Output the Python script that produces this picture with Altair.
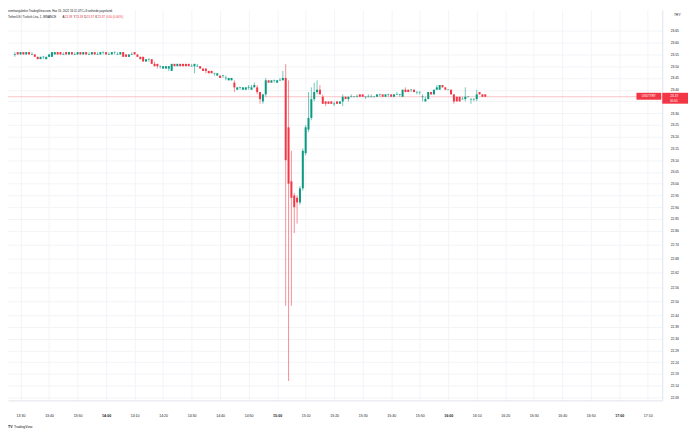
import altair as alt
import pandas as pd

GREEN = "#089981"
RED = "#f23645"
FONT = "Liberation Sans"

start_time = "2022-06-19 13:28"

opens = [
    23.55, 23.56, 23.55, 23.56, 23.55, 23.56, 23.55, 23.55, 23.54, 23.53, 23.54, 23.53, 23.54, 23.54,
    23.55, 23.56, 23.56, 23.55, 23.56, 23.55, 23.56, 23.55, 23.55, 23.56, 23.55, 23.56, 23.55, 23.55,
    23.56, 23.55, 23.55, 23.56, 23.56, 23.55, 23.55, 23.56, 23.55, 23.55, 23.56, 23.55, 23.54, 23.55,
    23.56, 23.55, 23.54, 23.54, 23.52, 23.53, 23.53, 23.51, 23.51, 23.50, 23.49, 23.49, 23.49, 23.48,
    23.51, 23.50, 23.51, 23.51, 23.51, 23.51, 23.50, 23.50, 23.50, 23.50, 23.49, 23.49, 23.48, 23.48,
    23.47, 23.46, 23.46, 23.46, 23.45, 23.44, 23.44, 23.43, 23.40, 23.41, 23.40, 23.40, 23.41, 23.40,
    23.41, 23.41, 23.39, 23.35, 23.38, 23.44, 23.43, 23.44, 23.43, 23.44, 23.44, 23.45, 23.24, 23.01,
    22.95, 22.94, 22.92, 22.98, 23.13, 23.23, 23.28, 23.36, 23.39, 23.40, 23.37, 23.35, 23.35, 23.35,
    23.34, 23.35, 23.34, 23.35, 23.37, 23.36, 23.37, 23.37, 23.37, 23.38, 23.38, 23.37, 23.37, 23.37,
    23.37, 23.37, 23.38, 23.38, 23.37, 23.38, 23.38, 23.37, 23.38, 23.38, 23.37, 23.40, 23.40, 23.40,
    23.40, 23.39, 23.39, 23.37, 23.35, 23.36, 23.39, 23.38, 23.40, 23.40, 23.42, 23.41, 23.40, 23.40,
    23.38, 23.37, 23.37, 23.36, 23.36, 23.37, 23.36, 23.36, 23.36, 23.39, 23.38, 23.38,
]
highs = [
    23.56, 23.56, 23.56, 23.56, 23.56, 23.56, 23.56, 23.55, 23.54, 23.54, 23.54, 23.54, 23.55, 23.56,
    23.56, 23.56, 23.56, 23.56, 23.56, 23.56, 23.56, 23.56, 23.56, 23.56, 23.56, 23.56, 23.56, 23.56,
    23.56, 23.56, 23.56, 23.56, 23.56, 23.56, 23.56, 23.56, 23.56, 23.56, 23.56, 23.55, 23.55, 23.56,
    23.56, 23.55, 23.54, 23.54, 23.53, 23.53, 23.53, 23.52, 23.51, 23.50, 23.50, 23.50, 23.50, 23.51,
    23.51, 23.51, 23.51, 23.51, 23.51, 23.51, 23.51, 23.51, 23.51, 23.50, 23.49, 23.49, 23.48, 23.48,
    23.47, 23.47, 23.46, 23.46, 23.46, 23.45, 23.45, 23.44, 23.41, 23.41, 23.41, 23.41, 23.42, 23.42,
    23.43, 23.42, 23.39, 23.38, 23.45, 23.44, 23.44, 23.44, 23.44, 23.45, 23.48, 23.51, 23.44, 23.14,
    22.96, 22.95, 22.99, 23.15, 23.25, 23.39, 23.41, 23.43, 23.44, 23.42, 23.38, 23.35, 23.35, 23.35,
    23.35, 23.35, 23.35, 23.38, 23.37, 23.37, 23.38, 23.37, 23.38, 23.38, 23.38, 23.37, 23.38, 23.38,
    23.37, 23.38, 23.38, 23.38, 23.38, 23.38, 23.38, 23.38, 23.39, 23.38, 23.40, 23.41, 23.40, 23.40,
    23.40, 23.39, 23.39, 23.38, 23.37, 23.39, 23.39, 23.40, 23.42, 23.42, 23.42, 23.41, 23.40, 23.40,
    23.38, 23.37, 23.37, 23.37, 23.41, 23.37, 23.36, 23.36, 23.40, 23.39, 23.38, 23.38,
]
lows = [
    23.54, 23.55, 23.55, 23.55, 23.55, 23.55, 23.55, 23.54, 23.53, 23.53, 23.53, 23.53, 23.54, 23.54,
    23.55, 23.55, 23.55, 23.55, 23.55, 23.55, 23.55, 23.55, 23.55, 23.55, 23.55, 23.55, 23.55, 23.55,
    23.55, 23.55, 23.55, 23.55, 23.55, 23.55, 23.55, 23.55, 23.55, 23.55, 23.54, 23.54, 23.54, 23.55,
    23.55, 23.54, 23.53, 23.52, 23.52, 23.52, 23.51, 23.50, 23.49, 23.49, 23.49, 23.49, 23.48, 23.48,
    23.50, 23.50, 23.50, 23.50, 23.50, 23.50, 23.50, 23.47, 23.50, 23.49, 23.48, 23.47, 23.47, 23.47,
    23.46, 23.46, 23.45, 23.45, 23.44, 23.44, 23.44, 23.39, 23.40, 23.40, 23.40, 23.40, 23.40, 23.40,
    23.41, 23.38, 23.34, 23.34, 23.37, 23.43, 23.43, 23.43, 23.43, 23.44, 23.44, 22.48, 22.16, 22.48,
    22.79, 22.83, 22.91, 22.97, 23.12, 23.22, 23.27, 23.35, 23.38, 23.38, 23.34, 23.33, 23.34, 23.34,
    23.33, 23.34, 23.34, 23.33, 23.36, 23.35, 23.37, 23.37, 23.37, 23.37, 23.37, 23.36, 23.37, 23.37,
    23.37, 23.37, 23.37, 23.37, 23.37, 23.37, 23.37, 23.37, 23.38, 23.37, 23.37, 23.39, 23.39, 23.39,
    23.39, 23.38, 23.38, 23.35, 23.35, 23.36, 23.38, 23.38, 23.40, 23.40, 23.41, 23.40, 23.40, 23.38,
    23.34, 23.35, 23.35, 23.36, 23.35, 23.37, 23.34, 23.35, 23.35, 23.38, 23.37, 23.37,
]
closes = [
    23.55, 23.55, 23.56, 23.55, 23.56, 23.55, 23.55, 23.54, 23.53, 23.54, 23.54, 23.54, 23.55, 23.56,
    23.56, 23.55, 23.55, 23.55, 23.55, 23.56, 23.55, 23.55, 23.56, 23.55, 23.56, 23.55, 23.55, 23.56,
    23.55, 23.55, 23.56, 23.56, 23.55, 23.55, 23.56, 23.56, 23.55, 23.56, 23.54, 23.54, 23.55, 23.55,
    23.55, 23.54, 23.53, 23.52, 23.53, 23.53, 23.51, 23.50, 23.50, 23.50, 23.50, 23.50, 23.50, 23.51,
    23.50, 23.51, 23.50, 23.50, 23.50, 23.50, 23.50, 23.51, 23.50, 23.49, 23.48, 23.48, 23.47, 23.47,
    23.47, 23.47, 23.45, 23.46, 23.45, 23.45, 23.45, 23.41, 23.41, 23.41, 23.41, 23.41, 23.41, 23.41,
    23.42, 23.39, 23.36, 23.38, 23.44, 23.43, 23.44, 23.44, 23.44, 23.44, 23.45, 23.10, 23.00, 22.94,
    22.90, 22.92, 22.98, 23.14, 23.24, 23.28, 23.36, 23.39, 23.40, 23.38, 23.34, 23.34, 23.34, 23.34,
    23.34, 23.34, 23.35, 23.37, 23.36, 23.37, 23.37, 23.37, 23.37, 23.37, 23.37, 23.37, 23.37, 23.37,
    23.37, 23.38, 23.38, 23.37, 23.38, 23.38, 23.37, 23.38, 23.38, 23.38, 23.40, 23.39, 23.39, 23.40,
    23.39, 23.39, 23.39, 23.37, 23.36, 23.39, 23.38, 23.40, 23.41, 23.42, 23.41, 23.40, 23.40, 23.38,
    23.35, 23.35, 23.35, 23.36, 23.37, 23.37, 23.36, 23.36, 23.38, 23.38, 23.37, 23.37,
]

time_ticks = ["13:30", "13:40", "13:50", "14:00", "14:10", "14:20", "14:30", "14:40", "14:50",
              "15:00", "15:10", "15:20", "15:30", "15:40", "15:50", "16:00", "16:10", "16:20",
              "16:30", "16:40", "16:50", "17:00", "17:10"]
price_ticks = [23.65, 23.60, 23.55, 23.50, 23.45, 23.40, 23.35, 23.30, 23.25, 23.20, 23.15, 23.10,
               23.05, 23.00, 22.95, 22.90, 22.85, 22.80, 22.74, 22.68, 22.62, 22.56, 22.50, 22.44,
               22.39, 22.34, 22.29, 22.24, 22.19, 22.14, 22.09]

credit_text = "semhangultekin TradingView.com, Haz 19, 2022 16:11 UTC+3 tarihinde yayınlandı"
symbol_text = "TetherUS / Turkish Lira, 1, BINANCE"
symbol_short = "USDTTRY"
countdown = "00:05"
currency = "TRY"

times = pd.date_range(start_time, periods=len(opens), freq="min")
df = pd.DataFrame({"t": times, "open": opens, "high": highs, "low": lows, "close": closes})
last_open, last_high, last_low, last_close = opens[-1], highs[-1], lows[-1], closes[-1]
change = round(last_close - closes[-2], 2)


def dt(hh, mm, ss=0):
    return alt.DateTime(year=2022, month=6, date=19, hours=hh, minutes=mm, seconds=ss)


x_scale = alt.Scale(domain=[dt(13, 27, 20), dt(17, 13, 20)])
x_axis = alt.Axis(
    values=[dt(int(s[:2]), int(s[3:])) for s in time_ticks],
    format="%H:%M", title=None, ticks=False, labelPadding=13,
    labelFontSize=3.6, labelColor="#131722", labelFont=FONT,
    labelFontWeight={"condition": {"test": "minutes(datum.value) == 0", "value": "bold"}, "value": "normal"},
    labelFlush=False, labelOverlap=False,
    grid=True, gridColor="#f3f4f8", gridWidth=1,
    domainColor="#e0e3eb", zindex=0,
)
y_scale = alt.Scale(domain=[22.0774, 23.7399], zero=False, nice=False)
y_axis = alt.Axis(
    orient="right", values=price_ticks, format=".2f", title=None, ticks=False,
    labelPadding=8, labelFontSize=3.3, labelColor="#131722", labelFont=FONT,
    labelFlush=False, labelOverlap=False, labelBaseline="middle",
    grid=True, gridColor="#f3f4f8", gridWidth=1, domainColor="#e0e3eb", zindex=0,
)

X = alt.X("t:T", scale=x_scale, axis=x_axis)
color = alt.condition("datum.close >= datum.open", alt.value(GREEN), alt.value(RED))

wicks = alt.Chart(df).mark_rule(strokeWidth=1, opacity=0.55).encode(
    x=X,
    y=alt.Y("low:Q", scale=y_scale, axis=y_axis),
    y2="high:Q",
    color=color,
)
bodies = alt.Chart(df).mark_bar(size=2).encode(
    x=X,
    y=alt.Y("open:Q", scale=y_scale, axis=y_axis),
    y2="close:Q",
    color=color,
)
dojis = alt.Chart(df).transform_filter("datum.open == datum.close").mark_tick(
    orient="horizontal", size=2, thickness=1
).encode(
    x=X,
    y=alt.Y("open:Q", scale=y_scale, axis=y_axis),
    color=color,
)

last_df = pd.DataFrame({"p": [last_close]})
YP = alt.Y("p:Q", scale=y_scale, axis=y_axis)

price_line = alt.Chart(last_df).mark_rule(color=RED, opacity=0.3, strokeWidth=1).encode(y=YP)

box_sym = alt.Chart(last_df).mark_rect(color=RED, yOffset=-4, y2Offset=3).encode(
    x=alt.value(634), x2=alt.value(659), y=YP, y2="p:Q"
)
box_price = alt.Chart(last_df).mark_rect(color=RED, yOffset=-4, y2Offset=7).encode(
    x=alt.value(660), x2=alt.value(686), y=YP, y2="p:Q"
)
txt_sym = alt.Chart(last_df).mark_text(
    color="white", fontSize=3, font=FONT, align="center", baseline="middle", dy=-0.5
).encode(x=alt.value(646.5), y=YP, text=alt.value(symbol_short))
txt_price = alt.Chart(last_df).mark_text(
    color="white", fontSize=3.3, font=FONT, align="left", baseline="middle", dy=-0.5
).encode(x=alt.value(668), y=YP, text=alt.value(f"{last_close:.2f}"))
txt_count = alt.Chart(last_df).mark_text(
    color="white", fontSize=3, font=FONT, align="left", baseline="middle", dy=4
).encode(x=alt.value(668), y=YP, text=alt.value(countdown))

one = pd.DataFrame({"a": [0]})


def label(text, x, y, size=3.3, col="#131722", weight="normal", baseline="middle", align="left"):
    return alt.Chart(one).mark_text(
        fontSize=size, font=FONT, color=col, fontWeight=weight, baseline=baseline, align=align
    ).encode(x=alt.value(x), y=alt.value(y), text=alt.value(text))


legend_layers = [
    label(credit_text, 0, 0.5, size=2.9, baseline="top"),
    label(symbol_text, 0, 7.5, size=3.0),
]
pieces = [("A", last_open), ("Y", last_high), ("D", last_low), ("K", last_close)]
px = 55
for letter, val in pieces:
    legend_layers.append(label(letter, px, 7.5, size=3.0))
    legend_layers.append(label(f"{val:.2f}", px + 2.3, 7.5, size=3.0, col=RED))
    px += 11
legend_layers.append(label(f"{abs(change):.2f} ({abs(change) / closes[-2] * 100:.2f}%)", px, 7.5, size=3.0, col=RED))
legend_layers.append(label(currency, 672, 5, size=3.3))
legend_layers.append(label("TV", 0, 421, size=3.6, weight="bold"))
legend_layers.append(label("TradingView", 6, 421, size=3.4))

chart = alt.layer(
    price_line, wicks, bodies, dojis, box_sym, box_price, txt_sym, txt_price, txt_count,
    *legend_layers,
).properties(
    width=660,
    height=394,
    autosize=alt.AutoSizeParams(type="none"),
    padding={"left": 0, "top": 0, "right": 26, "bottom": 30},
    background="white",
).configure_view(stroke=None)

chart.save("out.html", embed_options={"renderer": "svg", "actions": False})
